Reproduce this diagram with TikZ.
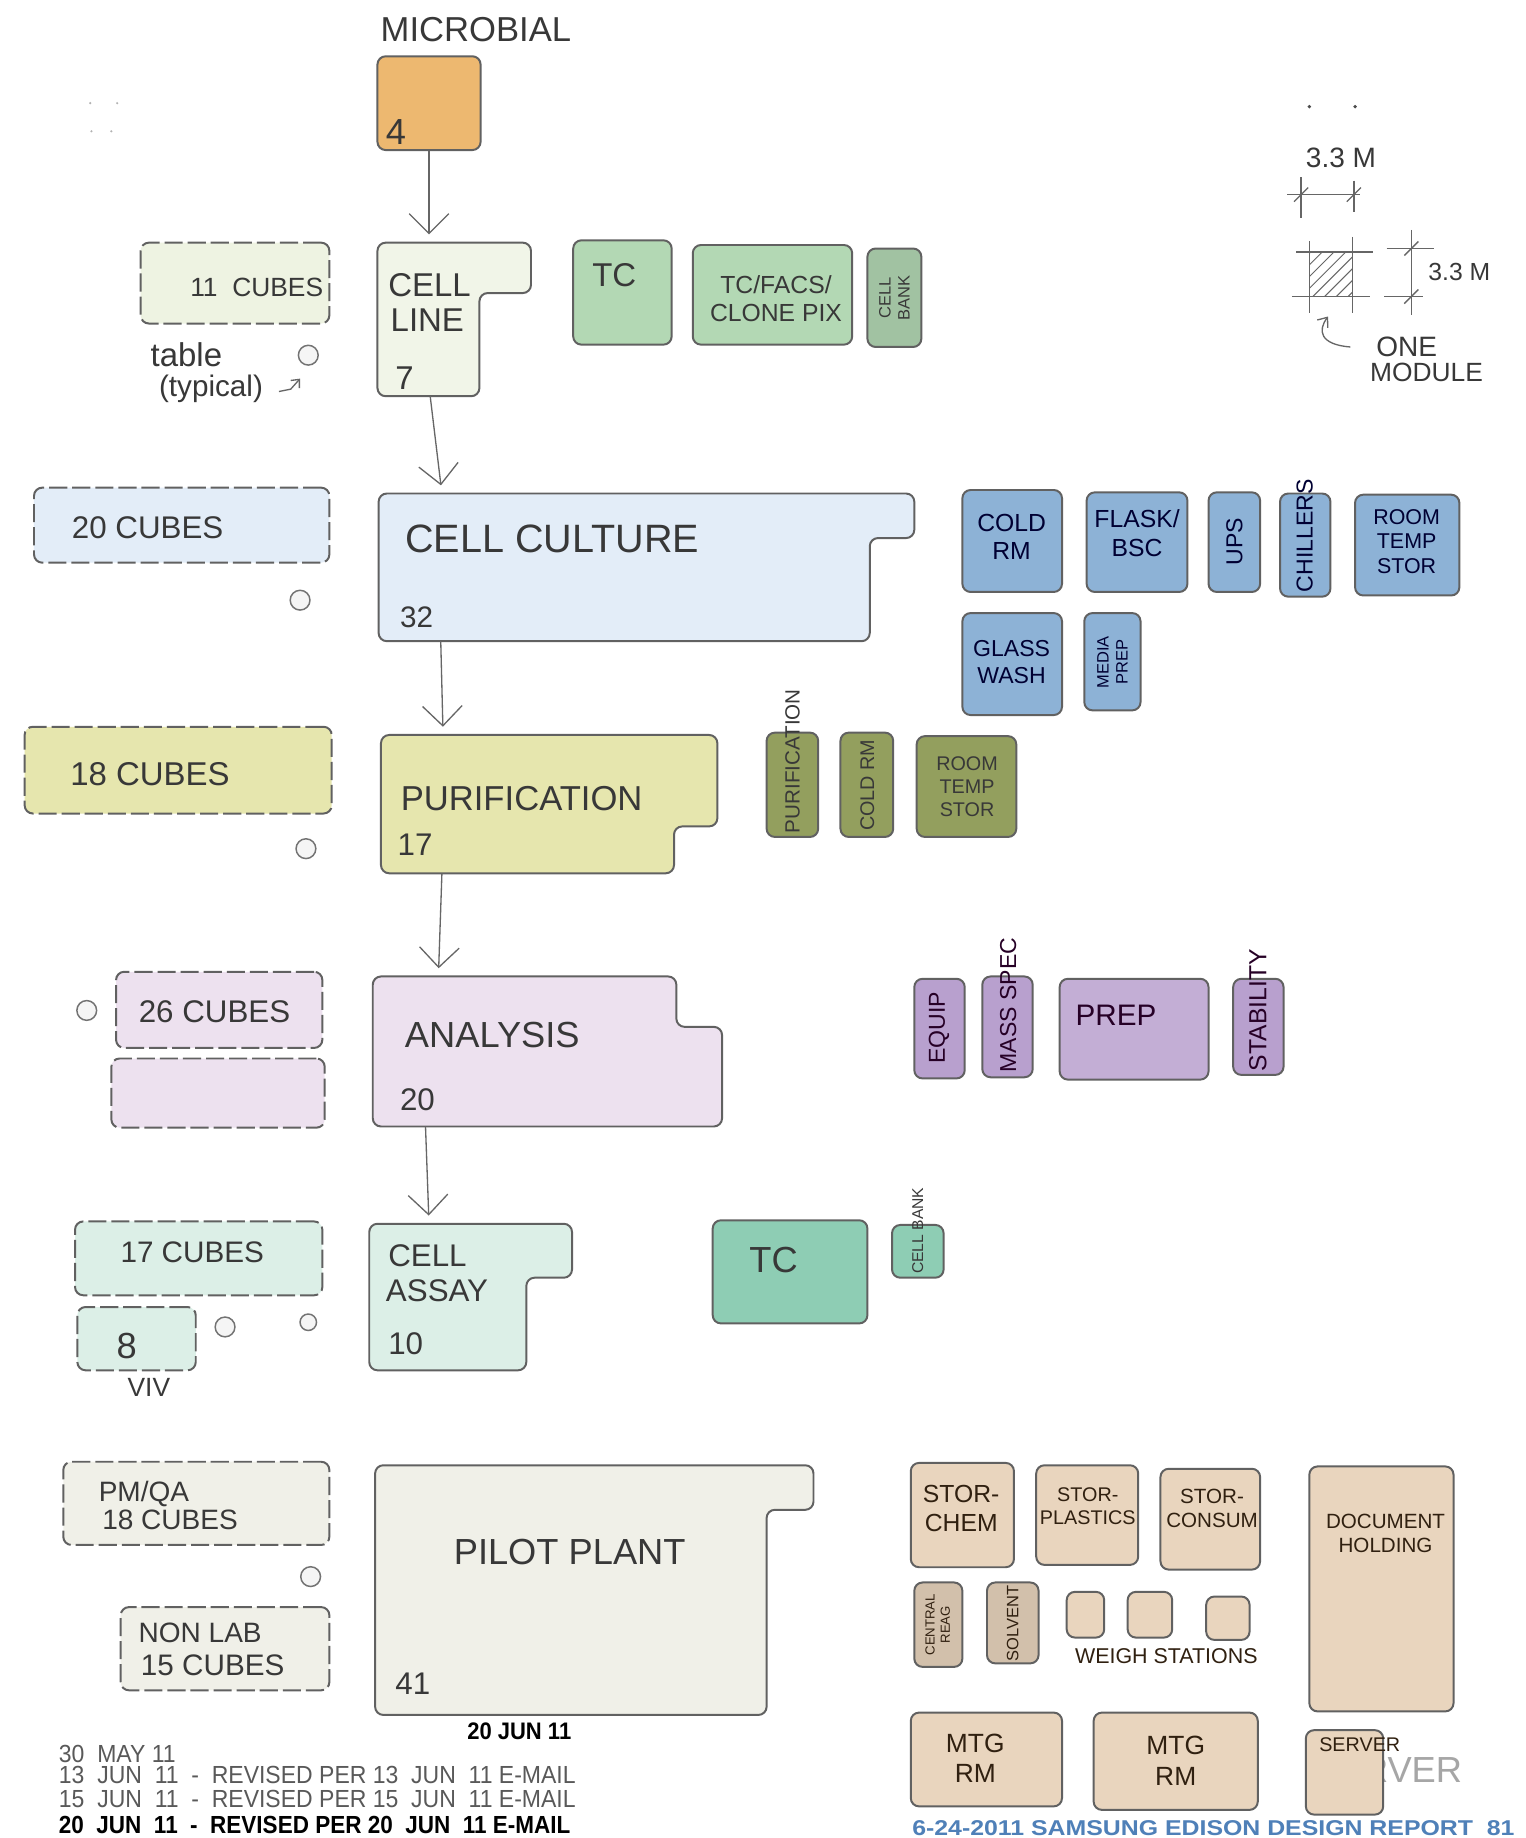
\documentclass[tikz,border=0pt]{standalone}
\usepackage{fontspec}
\setmainfont{Liberation Sans}
\usetikzlibrary{arrows.meta,fit}
\newcommand\fsz[1]{\fontsize{#1}{\fpeval{#1*1.15}}\selectfont}
\definecolor{orng}{HTML}{EDB870}
\definecolor{ga}{HTML}{EEF3E2}
\definecolor{gb}{HTML}{B3D8B4}
\definecolor{ba}{HTML}{E3EDF8}
\definecolor{bb}{HTML}{8DB2D6}
\definecolor{ya}{HTML}{E6E6AE}
\definecolor{yb}{HTML}{939F5E}
\definecolor{pa}{HTML}{EDE1EF}
\definecolor{pb}{HTML}{B8A0CE}
\definecolor{ta}{HTML}{DCEFE7}
\definecolor{tb}{HTML}{8ECDB4}
\definecolor{wa}{HTML}{F0F0E8}
\definecolor{tan}{HTML}{E9D5BE}
\definecolor{foot}{HTML}{4F80B8}
\tikzset{
  box/.style={draw=black!62, line width=1.2pt, rounded corners=5pt, inner sep=0pt},
  cubes/.style={box, dash pattern=on 11pt off 3pt},
  hand/.style={text=black!78, inner sep=0pt},
  arr/.style={draw=black!60, line width=0.8pt, shorten >=5pt, -{Straight Barb[length=12pt,width=24pt]}},
  tbl/.style={circle, draw=black!55, line width=0.9pt, fill=black!4, minimum size=12pt, inner sep=0pt},
  leg/.style={draw=black!60, line width=0.8pt},
}
\begin{document}
\begin{tikzpicture}[x=0.025cm,y=-0.025cm]
\useasboundingbox (0,0) rectangle (1301,1568);
\clip (0,0) rectangle (1301,1568);
\fill[white] (0,0) rectangle (1301,1568);

% faint specks
\foreach \p in {(77,88),(100,88),(78,112),(95,112)} \fill[black!30] \p circle (1);
\fill[black!70] (1117,91) circle (1.6);
\fill[black!70] (1156,91) circle (1.6);

% ---------- MICROBIAL ----------
\node[hand, font=\fsz{21}] (tMicro) at (406,25) {MICROBIAL};
\node[box, fill=orng, fit={(322,48) (410,128)}] (mic) {};
\node[hand, font=\fsz{22}, anchor=west] (tMic4) at (329,113) {4};

% ---------- CELL LINE row ----------
\node[cubes, fill=ga, fit={(120,207) (281,276)}] (cub11) {};
\node[hand, font=\fsz{16}] (t11) at (219,245) {11~~CUBES};
\draw[box, fill=ga!80!white] (322,207) -- (453,207) -- (453,250) -- (409,250) -- (409,338) -- (322,338) -- cycle;
\node[fit={(322,207) (409,338)}, inner sep=0pt] (cellline) {};
\node[hand, font=\fsz{20}, anchor=west] (tCL1) at (331,243) {CELL};
\node[hand, font=\fsz{20}, anchor=west] (tCL2) at (333,273) {LINE};
\node[hand, font=\fsz{20}, anchor=west] (tCL3) at (337,323) {7};
\node[hand, font=\fsz{20}] (tTable) at (159,303) {table};
\node[hand, font=\fsz{18}] (tTyp) at (180,332) {(typical)};
\node[tbl] (tbl1) at (263,303) {};
\coordinate (tArrS) at (238,334);
\draw[leg, -{Straight Barb[length=4pt,width=7pt]}] (tArrS) -- ++(10,-2) -- ++(8,-9);
\node[box, fill=gb, fit={(489,205) (573,294)}] (tc1) {};
\node[hand, font=\fsz{20}, anchor=west] (tTC1) at (505,235) {TC};
\node[box, fill=gb, fit={(591,209) (727,294)}] (facs) {};
\node[hand, font=\fsz{15}, align=center] (tFacs) at (662,255) {TC/FACS/\\CLONE PIX};
\node[box, fill=gb!90!black, fit={(740,212) (786,296)}] (cbank1) {};
\node[hand, font=\fsz{10}, rotate=90, align=center] (tCB1) at (763,254) {CELL\\BANK};

% ---------- MODULE legend ----------
\node[hand, font=\fsz{17}] (tDim1) at (1144,135) {3.3 M};
\draw[leg] (1098,166) -- (1160,166);
\draw[leg] (1110,151) -- (1110,186);
\draw[leg] (1155,154) -- (1155,181);
\draw[leg] (1104,172) -- (1116,160);
\draw[leg] (1149,172) -- (1161,160);
\begin{scope}
  \clip (1117,215) rectangle (1154,253);
  \foreach \xx in {1080,1090,...,1160} \draw[leg, line width=0.6pt] (\xx,253) -- ++(38,-38);
\end{scope}
\draw[leg] (1106,215) -- (1171,215);
\draw[leg] (1102,253) -- (1169,253);
\draw[leg] (1117,206) -- (1117,267);
\draw[leg] (1154,202) -- (1154,267);
\draw[leg] (1183,212) -- (1223,212);
\draw[leg] (1181,253) -- (1214,253);
\draw[leg] (1204,196) -- (1204,269);
\draw[leg] (1198,218) -- (1210,206);
\draw[leg] (1198,259) -- (1210,247);
\node[hand, font=\fsz{15}] (tDim2) at (1245,232) {3.3 M};
\coordinate (modA) at (1152,296);
\draw[leg, -{Straight Barb[length=5pt,width=8pt]}] (modA) .. controls (1126,294) and (1124,282) .. (1133,270);
\node[hand, font=\fsz{17}] (tOne) at (1200,296) {ONE};
\node[hand, font=\fsz{16}] (tModule) at (1217,318) {MODULE};

% ---------- CELL CULTURE row ----------
\node[cubes, fill=ba, fit={(29,416) (281,480)}] (cub20) {};
\node[hand, font=\fsz{19}] (t20) at (126,450) {20 CUBES};
\node[tbl] (tbl2) at (256,512) {};
\draw[box, fill=ba] (323,421) -- (780,421) -- (780,459) -- (742,459) -- (742,547) -- (323,547) -- cycle;
\node[fit={(323,421) (742,547)}, inner sep=0pt] (cellcult) {};
\node[hand, font=\fsz{24}] (tCC) at (471,460) {CELL CULTURE};
\node[hand, font=\fsz{18}, anchor=west] (tCC2) at (341,527) {32};
\begin{scope}[every node/.style={hand, text=black!80!blue}]
\node[box, fill=bb, fit={(821,418) (906,505)}] (coldrm) {};
\node[font=\fsz{15}, align=center] (tColdrm) at (863,458) {COLD\\RM};
\node[box, fill=bb, fit={(927,420) (1013,505)}] (flask) {};
\node[font=\fsz{15}, align=center] (tFlask) at (970,455) {FLASK/\\BSC};
\node[box, fill=bb, fit={(1031,420) (1075,505)}] (ups) {};
\node[font=\fsz{14}, rotate=90] (tUps) at (1053,462) {UPS};
\node[box, fill=bb, fit={(1092,421) (1135,509)}] (chill) {};
\node[font=\fsz{14}, rotate=90] (tChill) at (1113,457) {CHILLERS};
\node[box, fill=bb, fit={(1156,422) (1245,508)}] (rts1) {};
\node[font=\fsz{13}, align=center] (tRts1) at (1200,462) {ROOM\\TEMP\\STOR};
\node[box, fill=bb, fit={(821,523) (906,610)}] (glass) {};
\node[font=\fsz{14}, align=center] (tGlass) at (863,565) {GLASS\\WASH};
\node[box, fill=bb, fit={(925,523) (973,606)}] (media) {};
\node[font=\fsz{10}, rotate=90, align=center] (tMedia) at (949,565) {MEDIA\\PREP};
\end{scope}

% ---------- PURIFICATION row ----------
\node[cubes, fill=ya, fit={(21,620) (283,694)}] (cub18) {};
\node[hand, font=\fsz{20}] (t18) at (128,660) {18 CUBES};
\node[tbl] (tbl3) at (261,724) {};
\draw[box, fill=ya] (325,627) -- (612,627) -- (612,705) -- (575,705) -- (575,745) -- (325,745) -- cycle;
\node[fit={(325,627) (575,745)}, inner sep=0pt] (purif) {};
\node[hand, font=\fsz{21}] (tPur) at (445,681) {PURIFICATION};
\node[hand, font=\fsz{19}, anchor=west] (tPur2) at (339,721) {17};
\node[box, fill=yb, fit={(654,625) (698,714)}] (purbx) {};
\node[hand, font=\fsz{12.5}, rotate=90, anchor=west] (tPurbx) at (676,711) {PURIFICATION};
\node[box, fill=yb, fit={(717,625) (762,714)}] (coldrm2) {};
\node[hand, font=\fsz{12}, rotate=90] (tColdrm2) at (740,670) {COLD RM};
\node[box, fill=yb, fit={(782,628) (867,714)}] (rts2) {};
\node[hand, font=\fsz{12}, align=center] (tRts2) at (825,671) {ROOM\\TEMP\\STOR};

% ---------- ANALYSIS row ----------
\node[tbl] (tbl4) at (74,862) {};
\node[cubes, fill=pa, fit={(99,829) (275,894)}] (cub26) {};
\node[hand, font=\fsz{19}] (t26) at (183,863) {26 CUBES};
\node[cubes, fill=pa, fit={(95,903) (277,962)}] (cubx) {};
\draw[box, fill=pa] (318,833) -- (577,833) -- (577,876) -- (616,876) -- (616,961) -- (318,961) -- cycle;
\node[fit={(318,833) (616,961)}, inner sep=0pt] (analysis) {};
\node[hand, font=\fsz{22}] (tAn) at (420,883) {ANALYSIS};
\node[hand, font=\fsz{19}, anchor=west] (tAn2) at (341,938) {20};
\begin{scope}[every node/.style={hand, text=black!70!violet}]
\node[box, fill=pb, fit={(780,835) (823,920)}] (equip) {};
\node[font=\fsz{14}, rotate=90] (tEquip) at (801,877) {EQUIP};
\node[box, fill=pb, fit={(838,833) (881,919)}] (mass) {};
\node[font=\fsz{14}, rotate=90, anchor=west] (tMass) at (860,915) {MASS SPEC};
\node[box, fill=pb!85!white, fit={(904,835) (1031,921)}] (prep) {};
\node[font=\fsz{18}] (tPrep) at (952,866) {PREP};
\node[box, fill=pb, fit={(1052,835) (1095,917)}] (stab) {};
\node[font=\fsz{15}, rotate=90, anchor=west] (tStab) at (1073,914) {STABILITY};
\end{scope}

% ---------- CELL ASSAY row ----------
\node[cubes, fill=ta, fit={(64,1042) (275,1105)}] (cub17) {};
\node[hand, font=\fsz{18}] (t17) at (164,1068) {17 CUBES};
\node[cubes, fill=ta, fit={(66,1115) (167,1169)}] (viv) {};
\node[hand, font=\fsz{22}] (t8) at (108,1148) {8};
\node[hand, font=\fsz{16}] (tViv) at (127,1184) {VIV};
\node[tbl] (tbl5) at (192,1132) {};
\node[tbl, minimum size=10pt] (tbl6) at (263,1128) {};
\draw[box, fill=ta] (315,1044) -- (488,1044) -- (488,1090) -- (449,1090) -- (449,1169) -- (315,1169) -- cycle;
\node[fit={(315,1044) (449,1169)}, inner sep=0pt] (cellassay) {};
\node[hand, font=\fsz{19}, anchor=west] (tCA1) at (331,1071) {CELL};
\node[hand, font=\fsz{19}, anchor=west] (tCA2) at (329,1101) {ASSAY};
\node[hand, font=\fsz{19}, anchor=west] (tCA3) at (331,1146) {10};
\node[box, fill=tb, fit={(608,1041) (740,1129)}] (tc2) {};
\node[hand, font=\fsz{22}] (tTC2) at (660,1075) {TC};
\node[box, fill=tb, fit={(761,1045) (805,1090)}] (cbank2) {};
\node[hand, font=\fsz{9.5}, rotate=90, anchor=west] (tCB2) at (783,1087) {CELL BANK};

% ---------- PILOT PLANT row ----------
\node[cubes, fill=wa, fit={(54,1247) (281,1318)}] (pmqa) {};
\node[hand, font=\fsz{17}, anchor=base west] (tPm1) at (84,1281) {PM/QA};
\node[hand, font=\fsz{17}, anchor=base west] (tPm2) at (87,1305) {18 CUBES};
\node[tbl] (tbl7) at (265,1345) {};
\node[cubes, fill=wa, fit={(103,1371) (281,1442)}] (nonlab) {};
\node[hand, font=\fsz{17}, anchor=base west] (tNl1) at (118,1401) {NON LAB};
\node[hand, font=\fsz{18}, anchor=base west] (tNl2) at (120,1429) {15 CUBES};
\draw[box, fill=wa] (320,1250) -- (694,1250) -- (694,1288) -- (654,1288) -- (654,1463) -- (320,1463) -- cycle;
\node[fit={(320,1250) (654,1463)}, inner sep=0pt] (pilot) {};
\node[hand, font=\fsz{22}] (tPilot) at (486,1324) {PILOT PLANT};
\node[hand, font=\fsz{19}, anchor=west] (tPilot2) at (337,1436) {41};

% ---------- support (tan) ----------
\begin{scope}[every node/.style={hand, text=black!75!brown}]
\node[box, fill=tan, fit={(777,1248) (865,1337)}] (storchem) {};
\node[font=\fsz{15}, align=center] (tSc) at (820,1287) {STOR-\\CHEM};
\node[box, fill=tan, fit={(884,1250) (971,1335)}] (storpl) {};
\node[font=\fsz{12}, align=center] (tSp) at (928,1285) {STOR-\\PLASTICS};
\node[box, fill=tan, fit={(990,1253) (1075,1339)}] (storco) {};
\node[font=\fsz{12.5}, align=center] (tSco) at (1034,1287) {STOR-\\CONSUM};
\node[box, fill=tan, fit={(1117,1251) (1240,1460)}] (doc) {};
\node[font=\fsz{12.5}, align=center] (tDoc) at (1182,1308) {DOCUMENT\\HOLDING};
\node[box, fill=tan!90!black, fit={(780,1350) (821,1422)}] (central) {};
\node[font=\fsz{8}, rotate=90, align=center] (tCentral) at (800,1386) {CENTRAL\\REAG};
\node[box, fill=tan!90!black, fit={(842,1350) (886,1419)}] (solvent) {};
\node[font=\fsz{10}, rotate=90] (tSolvent) at (864,1385) {SOLVENT};
\node[box, fill=tan, fit={(910,1358) (942,1397)}] (ws1) {};
\node[box, fill=tan, fit={(962,1358) (1000,1397)}] (ws2) {};
\node[box, fill=tan, fit={(1029,1362) (1066,1399)}] (ws3) {};
\node[font=\fsz{13}] (tWeigh) at (995,1413) {WEIGH STATIONS};
\node[box, fill=tan, fit={(777,1461) (906,1541)}] (mtg1) {};
\node[font=\fsz{16}, align=center] (tMtg1) at (832,1500) {MTG\\RM};
\node[box, fill=tan, fit={(933,1461) (1073,1544)}] (mtg2) {};
\node[font=\fsz{16}, align=center] (tMtg2) at (1003,1502) {MTG\\RM};
\node[font=\fsz{22}, text=black!35] (tServerP) at (1184,1510) {SERVER};
\node[box, fill=tan, fit={(1114,1476) (1180,1548)}] (server) {};
\node[font=\fsz{12}] (tServer) at (1160,1488) {SERVER};
\end{scope}

% ---------- flow arrows ----------
\coordinate (clTop) at (366,207);
\coordinate (clBot) at (367,338);
\coordinate (ccTop) at (377,421);
\coordinate (ccBot) at (376,547);
\coordinate (puTop) at (378,627);
\coordinate (puBot) at (377,745);
\coordinate (anTop) at (374,833);
\coordinate (anBot) at (363,961);
\coordinate (caTop) at (366,1044);
\draw[arr] (mic.south) -- (clTop);
\draw[arr] (clBot) -- (ccTop);
\draw[arr] (ccBot) -- (puTop);
\draw[arr] (puBot) -- (anTop);
\draw[arr] (anBot) -- (caTop);

% ---------- revision notes ----------
\node[font=\bfseries\fsz{14.5}, inner sep=0pt] (dTop) at (443,1477) {\scalebox{0.92}[1]{20 JUN 11}};
\node[anchor=west, text=black!65, font=\fsz{15}, inner sep=0pt] (d1) at (50,1496) {\scalebox{0.93}[1]{30~~MAY 11}};
\node[anchor=west, text=black!65, font=\fsz{15}, inner sep=0pt] (d2) at (50,1514) {\scalebox{0.93}[1]{13~~JUN~~11~~-~~REVISED PER 13~~JUN~~11 E-MAIL}};
\node[anchor=west, text=black!65, font=\fsz{15}, inner sep=0pt] (d3) at (50,1535) {\scalebox{0.93}[1]{15~~JUN~~11~~-~~REVISED PER 15~~JUN~~11 E-MAIL}};
\node[anchor=west, text=black, font=\bfseries\fsz{15}, inner sep=0pt] (d4) at (50,1557) {\scalebox{0.91}[1]{20~~JUN~~11~~-~~REVISED PER 20~~JUN~~11 E-MAIL}};

% ---------- footer ----------
\node[anchor=base west, text=foot, font=\bfseries\fsz{13}, inner sep=0pt] (footer) at (778,1566) {\scalebox{1.16}[1]{6-24-2011 SAMSUNG EDISON DESIGN REPORT~~81}};
\end{tikzpicture}
\end{document}
